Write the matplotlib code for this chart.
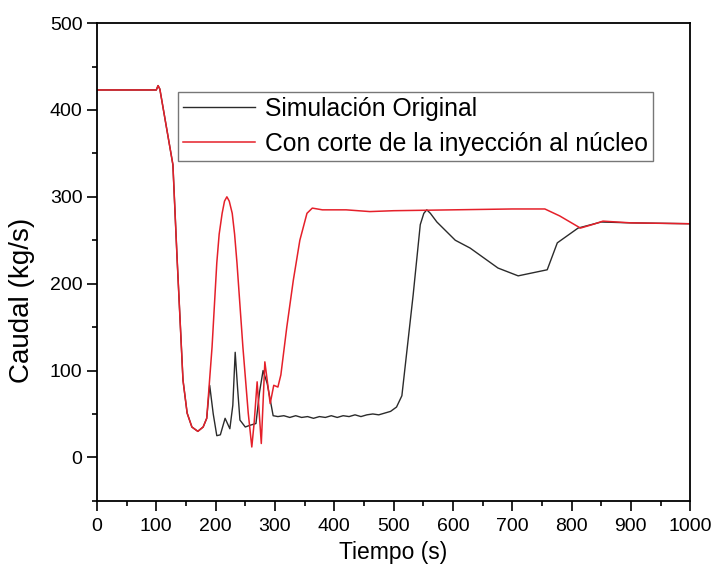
import matplotlib.pyplot as plt
from matplotlib.ticker import MultipleLocator

plt.rcParams['font.family'] = ['Liberation Sans', 'DejaVu Sans']

# Con corte de la inyección al núcleo (rojo)
t_corte = [0, 100, 103, 106, 128, 135, 145, 152, 160, 170, 179, 185, 194, 202, 206,
           211, 215, 219, 223, 228, 232, 236, 246, 255, 261, 265, 270, 277, 283, 292,
           298, 305, 310, 320, 331, 342, 354, 363, 380, 420, 460, 500, 600, 700, 755,
           780, 815, 835, 853, 900, 1000]
q_corte = [423, 423, 428, 424, 337, 230, 89, 51, 35, 30, 35, 45, 127, 224, 257,
           281, 295, 300, 295, 281, 257, 224, 127, 51, 12, 40, 87, 16, 110, 62,
           83, 81, 95, 150, 204, 250, 281, 287, 285, 285, 283, 284, 285, 286, 286,
           278, 264, 268, 272, 270, 269]

# Simulación Original (negro)
t_orig = [0, 100, 103, 106, 128, 135, 145, 152, 160, 170, 179, 185, 190, 196, 202,
          208, 216, 224, 229, 233, 237, 241, 250, 258, 268, 274, 280, 287, 297, 305,
          315, 325, 335, 345, 355, 365, 375, 385, 395, 405, 415, 425, 435, 445, 455,
          465, 475, 485, 495, 505, 514, 533, 545, 551, 556, 562, 573, 604, 629, 676,
          710, 759, 776, 811, 850, 900, 1000]
q_orig = [423, 423, 428, 424, 337, 230, 89, 51, 35, 30, 35, 45, 83, 50, 25,
          26, 45, 33, 60, 121, 80, 43, 35, 37, 39, 75, 100, 85, 48, 47,
          48, 46, 48, 46, 47, 45, 47, 46, 48, 46, 48, 47, 49, 47, 49,
          50, 49, 51, 53, 58, 71, 187, 268, 281, 285, 281, 271, 250, 241, 218,
          209, 216, 247, 264, 271, 270, 269]

fig = plt.figure(figsize=(7.13, 5.77), dpi=100)
ax = fig.add_axes([0.136, 0.132, 0.832, 0.828])

ax.plot(t_orig, q_orig, color='#2b2b2b', linewidth=1.0, label='Simulación Original')
ax.plot(t_corte, q_corte, color='#e5202a', linewidth=1.1, label='Con corte de la inyección al núcleo')

ax.set_xlim(0, 1000)
ax.set_ylim(-50, 500)
ax.xaxis.set_major_locator(MultipleLocator(100))
ax.xaxis.set_minor_locator(MultipleLocator(50))
ax.yaxis.set_minor_locator(MultipleLocator(50))
ax.set_yticks(range(0, 501, 100))
ax.tick_params(which='both', direction='out', top=False, right=False, labelsize=14, width=1.2)
ax.tick_params(which='major', length=7)
ax.tick_params(which='minor', length=3.6)
ax.tick_params(axis='x', pad=5)
for s in ax.spines.values():
    s.set_linewidth(1.3)

ax.set_xlabel('Tiempo (s)', fontsize=16.5)
ax.xaxis.set_label_coords(0.5, -0.085)
ax.set_ylabel('Caudal (kg/s)', fontsize=20)
ax.yaxis.set_label_coords(-0.105, 0.42)

leg = ax.legend(loc='upper left', bbox_to_anchor=(0.1366, 0.856), borderaxespad=0,
                fontsize=17.8, frameon=True, fancybox=False, edgecolor='#555555',
                handlelength=2.9, borderpad=0.2, labelspacing=0.45, handletextpad=0.42)
leg.get_frame().set_linewidth(1.0)

plt.savefig('out.png', dpi=100, facecolor='white')
